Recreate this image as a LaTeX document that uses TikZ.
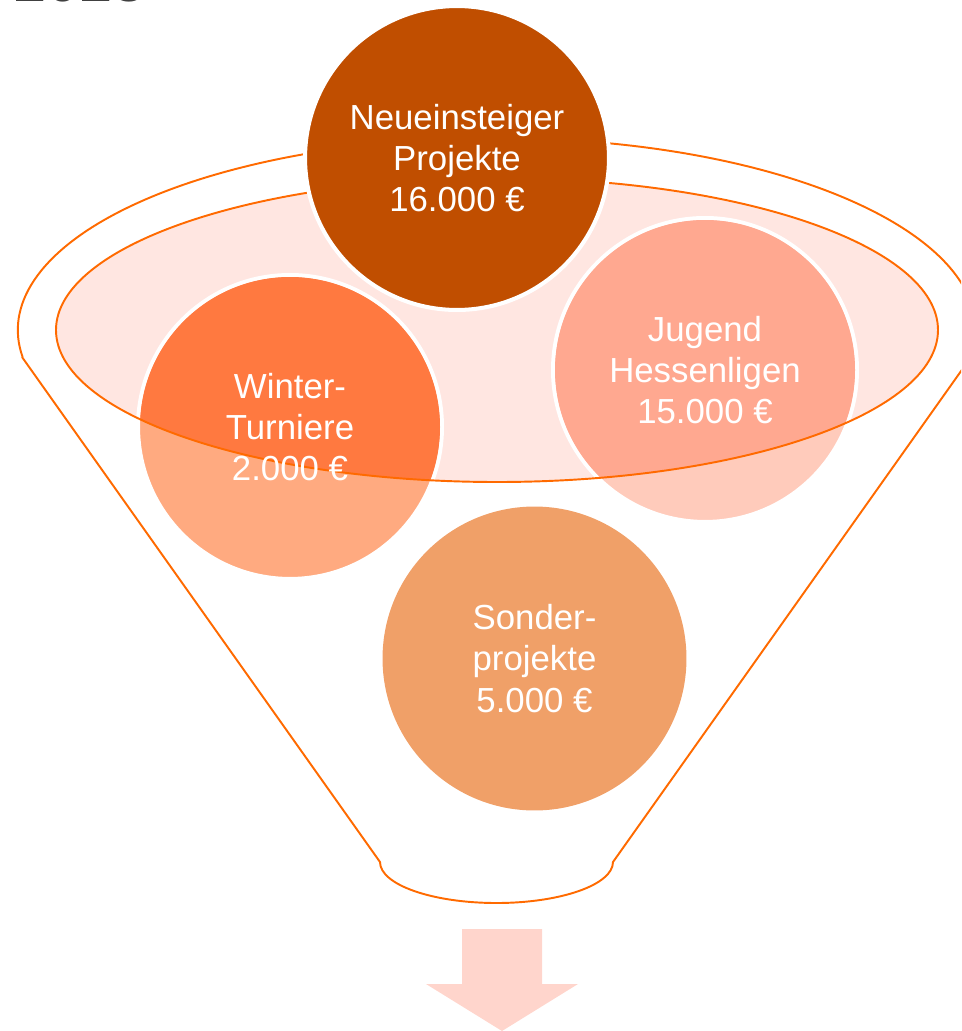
\documentclass[tikz,border=0pt]{standalone}
\usepackage{fontspec}
\setmainfont{Liberation Sans}
\usetikzlibrary{positioning}

\definecolor{funnelorange}{HTML}{FF6A00}
\definecolor{rimfill}{HTML}{FFE6E1}
\definecolor{topcol}{HTML}{C04E00}
\definecolor{winterfull}{HTML}{FF7940}
\definecolor{winterlight}{HTML}{FFAA80}
\definecolor{jugendfull}{HTML}{FFA890}
\definecolor{jugendlight}{HTML}{FFCBBB}
\definecolor{sondercol}{HTML}{F0A068}
\definecolor{arrowpink}{HTML}{FFD5CC}
\definecolor{yeargray}{HTML}{404040}

\tikzset{
  funnelline/.style={draw=funnelorange, line width=1.1pt},
  bubble/.style={circle, draw=white, line width=2.3pt,
    minimum size=6.08cm, inner sep=0pt},
  bubbletext/.style={text=white, align=center,
    font=\fontsize{19.8}{23.4}\selectfont},
  yeartext/.style={text=yeargray, font=\fontsize{34}{40}\selectfont}
}

\begin{document}
\begin{tikzpicture}[x=0.02cm, y=-0.02cm]
        \useasboundingbox (0,0) rectangle (961,1031);
        \clip (0,0) rectangle (961,1031);

        % year, cut off at the top edge
        \node[yeartext, anchor=base west, inner sep=0pt] (year) at (13,2) {2023};

        % funnel outline
        \draw[funnelline] (22,357) -- (380,862)
          arc[start angle=180, end angle=0, x radius=116.5, y radius=41]
          -- (971,357)
          arc[start angle=8.1, end angle=-188.1, x radius=479, y radius=192];

        % rim
        \fill[rimfill] (497,330) ellipse[x radius=441, y radius=152];

        \node[bubble,
        fill=winterlight
        ](winter) at (290,427) {};

        \node[bubble,
        fill=jugendlight
        ](jugend) at (705,370) {};

        \node[bubble,
        draw=none,
        fill=sondercol
        ](sonder) at (534.5,658.5) {};

        % stronger colour inside the rim
        \begin{scope}
          \clip (497,330) ellipse[x radius=441, y radius=152];
          \fill[winterfull] (winter.center) circle[radius=150];
          \fill[jugendfull] (jugend.center) circle[radius=150];
        \end{scope}

        \draw[funnelline] (497,330) ellipse[x radius=441, y radius=152];

        \node[bubbletext] (wintertext) at (winter) {Winter-\\Turniere\\2.000 €};
        \node[bubbletext] (jugendtext) at (jugend) {Jugend\\Hessenligen\\15.000 €};
        \node[bubbletext] (sondertext) at (sonder) {Sonder-\\projekte\\5.000 €};

        \node[bubble, bubbletext,
        fill=topcol
        ](neu) at (457,158) {Neueinsteiger\\Projekte\\16.000 €};

        % arrow below the funnel
        \fill[arrowpink] (462,929) -- (542,929) -- (542,984) -- (578,984)
          -- (502,1031) -- (426,984) -- (462,984) -- cycle;

    \end{tikzpicture}
\end{document}
